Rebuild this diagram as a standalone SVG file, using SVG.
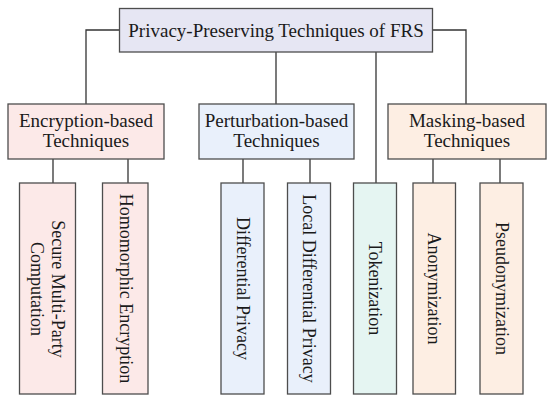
<svg xmlns="http://www.w3.org/2000/svg" width="550" height="403" viewBox="0 0 550 403">
<style>
  .box { stroke: #4d4d4d; stroke-width: 1.3; }
  .t { font-family: "Liberation Serif", "Times New Roman", serif; fill: #1a1a1a; text-anchor: middle; }
  .h { font-size: 19px; }
  .v { font-size: 18px; }
  .conn { stroke: #333; stroke-width: 1.3; fill: none; }
  .enc { fill: #fce9e8; }
  .per { fill: #e9f0fb; }
  .mask { fill: #fdeee3; }
  .tok { fill: #e5f5f2; }
  .root { fill: #e6e6f3; }
</style>
<rect width="550" height="403" fill="#ffffff"/>
<g id="connectors">
  <polyline class="conn" points="119.5,30 86,30 86,104"/>
  <polyline class="conn" points="432.5,30 466,30 466,104"/>
  <line class="conn" x1="276" y1="52" x2="276" y2="104"/>
  <line class="conn" x1="376" y1="52" x2="376" y2="183"/>
  <line class="conn" x1="53" y1="159" x2="53" y2="183"/>
  <line class="conn" x1="128" y1="159" x2="128" y2="183"/>
  <line class="conn" x1="243" y1="159" x2="243" y2="183"/>
  <line class="conn" x1="310" y1="159" x2="310" y2="183"/>
  <line class="conn" x1="433" y1="159" x2="433" y2="183"/>
  <line class="conn" x1="500" y1="159" x2="500" y2="183"/>
</g>
<g id="root">
  <rect class="box root" x="119.5" y="8.5" width="313" height="43.5"/>
  <text class="t h" x="276" y="36.5">Privacy-Preserving Techniques of FRS</text>
</g>
<g id="encryption">
  <rect class="box enc" x="8" y="104" width="156" height="55"/>
  <text class="t h" x="86" y="127">Encryption-based</text>
  <text class="t h" x="86" y="147">Techniques</text>
</g>
<g id="perturbation">
  <rect class="box per" x="199" y="104" width="155" height="55"/>
  <text class="t h" x="276.5" y="127">Perturbation-based</text>
  <text class="t h" x="276.5" y="147">Techniques</text>
</g>
<g id="masking">
  <rect class="box mask" x="388" y="104" width="158" height="55"/>
  <text class="t h" x="467" y="127">Masking-based</text>
  <text class="t h" x="467" y="147">Techniques</text>
</g>
<g id="smpc">
  <rect class="box enc" x="19.5" y="183" width="56" height="211"/>
  <g transform="translate(47.5,289) rotate(90)">
    <text class="t v" x="0" y="-4.5">Secure Multi-Party</text>
    <text class="t v" x="0" y="16.5">Computation</text>
  </g>
</g>
<g id="homomorphic">
  <rect class="box enc" x="102.5" y="183" width="45.5" height="211"/>
  <text class="t v" transform="translate(125.5,288.5) rotate(90)" x="0" y="6">Homomorphic Encryption</text>
</g>
<g id="dp">
  <rect class="box per" x="221" y="183" width="43" height="211"/>
  <text class="t v" transform="translate(242.5,288.5) rotate(90)" x="0" y="6">Differential Privacy</text>
</g>
<g id="ldp">
  <rect class="box per" x="287.5" y="183" width="43" height="211"/>
  <text class="t v" transform="translate(309,288.5) rotate(90)" x="0" y="6">Local Differential Privacy</text>
</g>
<g id="tokenization">
  <rect class="box tok" x="353.5" y="183" width="43" height="211"/>
  <text class="t v" transform="translate(375,288.5) rotate(90)" x="0" y="6">Tokenization</text>
</g>
<g id="anonymization">
  <rect class="box mask" x="413" y="183" width="42.5" height="211"/>
  <text class="t v" transform="translate(434,288.5) rotate(90)" x="0" y="6">Anonymization</text>
</g>
<g id="pseudonymization">
  <rect class="box mask" x="480" y="183" width="43" height="211"/>
  <text class="t v" transform="translate(501.5,288.5) rotate(90)" x="0" y="6">Pseudonymization</text>
</g>
</svg>
